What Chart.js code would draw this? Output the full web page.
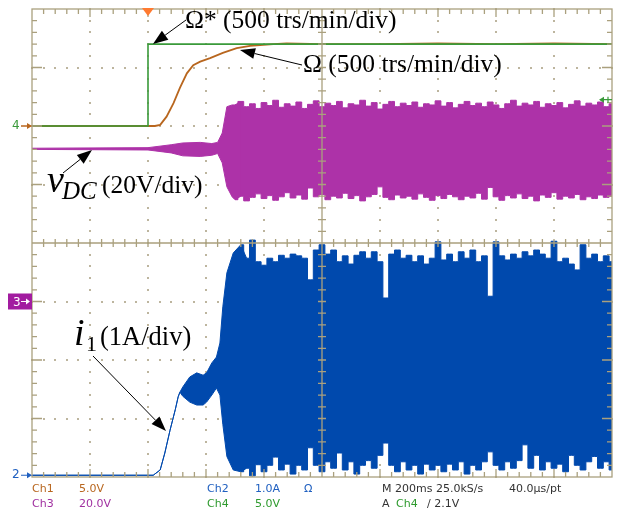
<!DOCTYPE html>
<html>
<head>
<meta charset="utf-8">
<script src="https://cdn.jsdelivr.net/npm/chart.js@4.4.0/dist/chart.umd.min.js"></script>
<style>
  body { margin: 0; background: #fff; }
  #wrap { width: 620px; height: 511px; position: relative; }
</style>
</head>
<body>
<div id="wrap"><canvas id="scope"></canvas></div>
<script>
// everything is in screen divisions: x 0..10, y -4..4 (0 = centre line)

// Ch4 : speed reference Omega*
var refX = [0, 2.0, 2.0, 10];
var refY = [2.0, 2.0, 3.4, 3.4];

// Ch1 : measured speed Omega
var speedX = [0, 2.12, 2.21, 2.32, 2.44, 2.55, 2.67, 2.78, 2.90, 3.07, 3.29, 3.53, 3.76, 4.16, 4.39, 5.0, 6.0, 7.0, 8.0, 9.0, 10.0];
var speedY = [2.0, 2.0, 2.02, 2.16, 2.39, 2.65, 2.90, 3.04, 3.10, 3.16, 3.25, 3.33, 3.37, 3.40, 3.41, 3.40, 3.40, 3.41, 3.40, 3.41, 3.40];

// Ch3 : vDC envelope, start-up part
var vdcOnsetX   = [0, 2.0, 2.4, 2.6, 2.9, 3.1, 3.2, 3.28, 3.36, 3.45];
var vdcOnsetTop = [1.62, 1.63, 1.68, 1.71, 1.72, 1.70, 1.72, 1.88, 2.33, 2.36];
var vdcOnsetBot = [1.60, 1.59, 1.54, 1.49, 1.48, 1.50, 1.53, 1.37, 0.96, 0.79];
// Ch3 : vDC envelope, read every 0.1 div from 3.5 to 10
var vdcStart = 3.5;
var vdcTop = [2.36,2.42,2.33,2.38,2.30,2.40,2.35,2.44,2.32,2.38,2.34,2.41,2.30,2.37,2.43,2.33,2.39,2.35,2.42,2.31,2.38,2.36,2.44,2.34,2.40,2.29,2.37,2.42,2.33,2.39,2.35,2.41,2.32,2.38,2.36,2.43,2.34,2.40,2.31,2.37,2.42,2.35,2.39,2.33,2.41,2.36,2.30,2.38,2.44,2.34,2.39,2.36,2.42,2.32,2.38,2.35,2.40,2.31,2.37,2.43,2.34,2.39,2.36,2.41,2.33,2.38];
var vdcBot = [0.74,0.80,0.72,0.78,0.84,0.76,0.81,0.73,0.79,0.86,0.77,0.82,0.75,0.94,0.79,0.83,0.74,0.80,0.77,0.85,0.76,0.81,0.72,0.79,0.83,0.96,0.78,0.74,0.82,0.77,0.80,0.75,0.84,0.78,0.73,0.81,0.76,0.83,0.79,0.74,0.80,0.77,0.85,0.75,0.95,0.79,0.73,0.81,0.77,0.84,0.76,0.80,0.72,0.82,0.78,0.86,0.75,0.80,0.77,0.83,0.74,0.79,0.76,0.82,0.78,0.80];

// Ch2 : phase current i1, start-up part
var curOnsetX   = [0, 2.09, 2.21, 2.29, 2.38, 2.47, 2.52, 2.55, 2.60, 2.72, 2.84, 2.95, 3.01, 3.10, 3.18, 3.24, 3.29, 3.36, 3.47];
var curOnsetTop = [-3.97, -3.97, -3.88, -3.59, -3.20, -2.85, -2.63, -2.55, -2.46, -2.29, -2.22, -2.26, -2.22, -2.05, -1.95, -1.71, -1.09, -0.51, -0.17];
var curOnsetBot = [-3.97, -3.97, -3.88, -3.59, -3.20, -2.85, -2.63, -2.55, -2.62, -2.72, -2.77, -2.77, -2.72, -2.60, -2.48, -2.60, -3.10, -3.65, -3.88];
// Ch2 : current envelope, read every 0.1 div from 3.6 to 10
var curStart = 3.6;
var curTop = [-0.03,-0.26,0.05,-0.32,-0.38,-0.26,-0.32,-0.21,-0.26,-0.19,-0.22,-0.26,-0.63,-0.12,-0.03,-0.19,-0.12,-0.32,-0.22,-0.36,-0.21,-0.15,-0.26,-0.15,-0.32,-0.94,-0.19,-0.12,-0.26,-0.21,-0.32,-0.22,-0.36,-0.26,0.02,-0.29,-0.19,-0.32,-0.15,-0.26,-0.12,-0.32,-0.22,-0.91,0.02,-0.22,-0.29,-0.19,-0.26,-0.15,-0.22,-0.12,-0.19,-0.26,0.03,-0.32,-0.26,-0.36,-0.46,-0.03,-0.26,-0.19,-0.32,-0.22,-0.32];
var curBot = [-3.91,-3.85,-3.98,-3.79,-3.91,-3.80,-3.66,-3.88,-3.78,-3.95,-3.80,-3.88,-3.50,-3.80,-3.91,-3.74,-3.85,-3.59,-3.88,-3.74,-3.95,-3.80,-3.72,-3.85,-3.63,-3.42,-3.80,-3.91,-3.74,-3.88,-3.80,-3.95,-3.78,-3.88,-3.80,-3.91,-3.78,-3.88,-3.74,-3.95,-3.80,-3.88,-3.74,-3.57,-3.80,-3.88,-3.74,-3.85,-3.72,-3.45,-3.85,-3.63,-3.88,-3.74,-3.85,-3.78,-3.91,-3.63,-3.80,-3.88,-3.74,-3.65,-3.85,-3.74,-3.88];
var sampleStep = 0.1;

function pts(xs, ys) {
  return ys.map(function (v, i) { return { x: xs[i], y: v }; });
}
function sampled(start, vals) {
  return vals.map(function (v, i) { return { x: +(start + i * sampleStep).toFixed(2), y: v }; });
}
// onset part runs into the first two sampled points so the fills overlap (no seam)
function onset(xs, ys, start, vals) {
  var out = pts(xs, ys);
  out.push({ x: start, y: vals[0] });
  out.push({ x: +(start + sampleStep).toFixed(2), y: vals[1] });
  return out;
}

var BLUE = '#0049ad', PURPLE = '#ad32a8', GREEN = '#3a9a3a', BROWN = '#b8661e';
var TAN = '#aaa07e';

function arrow(ctx, x1, y1, x2, y2) {
  var a = Math.atan2(y2 - y1, x2 - x1), L = 15, W = 5.5;
  ctx.strokeStyle = '#000'; ctx.fillStyle = '#000'; ctx.lineWidth = 1;
  ctx.beginPath(); ctx.moveTo(x1, y1);
  ctx.lineTo(x2 - Math.cos(a) * L, y2 - Math.sin(a) * L); ctx.stroke();
  ctx.beginPath(); ctx.moveTo(x2, y2);
  ctx.lineTo(x2 - Math.cos(a) * L - Math.sin(a) * W, y2 - Math.sin(a) * L + Math.cos(a) * W);
  ctx.lineTo(x2 - Math.cos(a) * L + Math.sin(a) * W, y2 - Math.sin(a) * L - Math.cos(a) * W);
  ctx.closePath(); ctx.fill();
}

var graticule = {
  id: 'graticule',
  // dotted division lines, one dot per 0.2 div
  beforeDatasetsDraw: function (chart) {
    var ctx = chart.ctx, sx = chart.scales.x, sy = chart.scales.y;
    ctx.save();
    ctx.fillStyle = '#bdb59e';
    for (var gx = 1; gx < 10; gx++) {
      if (gx === 5) continue;
      var p = Math.round(sx.getPixelForValue(gx));
      for (var k = 0; k <= 40; k++) {
        var q = Math.round(sy.getPixelForValue(-4 + k * 0.2));
        ctx.fillRect(p - 1, q - 1, 2, 2);
      }
    }
    for (var gy = -3; gy < 4; gy++) {
      if (gy === 0) continue;
      var qq = Math.round(sy.getPixelForValue(gy));
      for (var m = 0; m <= 50; m++) {
        var pp = Math.round(sx.getPixelForValue(m * 0.2));
        ctx.fillRect(pp - 1, qq - 1, 2, 2);
      }
    }
    ctx.restore();
  },
  // frame and centre cross with their small ticks
  afterDatasetsDraw: function (chart) {
    var ctx = chart.ctx, sx = chart.scales.x, sy = chart.scales.y;
    var l = sx.getPixelForValue(0), r = sx.getPixelForValue(10);
    var t = sy.getPixelForValue(4), b = sy.getPixelForValue(-4);
    var cx = sx.getPixelForValue(5), cy = sy.getPixelForValue(0);
    ctx.save();
    ctx.strokeStyle = TAN; ctx.lineWidth = 1.3;
    ctx.strokeRect(l, t, r - l, b - t);
    ctx.beginPath();
    ctx.moveTo(l, cy); ctx.lineTo(r, cy);
    ctx.moveTo(cx, t); ctx.lineTo(cx, b);
    for (var i = 1; i < 50; i++) {
      var p = sx.getPixelForValue(i * 0.2);
      var major = i % 5 === 0;
      ctx.moveTo(p, cy - 4); ctx.lineTo(p, cy + 4);
      ctx.moveTo(p, t); ctx.lineTo(p, t + (major ? 8 : 5));
      ctx.moveTo(p, b); ctx.lineTo(p, b - (major ? 8 : 5));
    }
    for (var j = 1; j < 40; j++) {
      var q = sy.getPixelForValue(-4 + j * 0.2);
      var maj = j % 5 === 0;
      ctx.moveTo(cx - 4, q); ctx.lineTo(cx + 4, q);
      ctx.moveTo(l, q); ctx.lineTo(l + (maj ? 10 : 5), q);
      ctx.moveTo(r, q); ctx.lineTo(r - (maj ? 10 : 5), q);
    }
    ctx.stroke();
    ctx.restore();
  },
  afterDraw: function (chart) {
    var ctx = chart.ctx, sx = chart.scales.x, sy = chart.scales.y;
    var l = sx.getPixelForValue(0), r = sx.getPixelForValue(10), t = sy.getPixelForValue(4);
    ctx.save();
    // channel ground markers
    ctx.font = '12px "DejaVu Sans"'; ctx.textBaseline = 'middle';
    var y4 = sy.getPixelForValue(2.0);
    ctx.fillStyle = GREEN; ctx.fillText('4', 12, y4);
    ctx.strokeStyle = BROWN; ctx.fillStyle = BROWN; ctx.lineWidth = 1.5;
    ctx.beginPath(); ctx.moveTo(21, y4); ctx.lineTo(l - 1, y4); ctx.stroke();
    ctx.beginPath(); ctx.moveTo(l, y4); ctx.lineTo(l - 5, y4 - 3); ctx.lineTo(l - 5, y4 + 3); ctx.fill();
    var y3 = sy.getPixelForValue(-1.0);
    ctx.fillStyle = '#a21ca0'; ctx.fillRect(8, y3 - 8, l - 8, 16);
    ctx.fillStyle = '#fff'; ctx.fillText('3', 13, y3 + 1);
    ctx.strokeStyle = '#fff'; ctx.lineWidth = 1;
    ctx.beginPath(); ctx.moveTo(21, y3); ctx.lineTo(28, y3); ctx.stroke();
    ctx.beginPath(); ctx.moveTo(30, y3); ctx.lineTo(26, y3 - 3); ctx.lineTo(26, y3 + 3); ctx.fill();
    var y2 = sy.getPixelForValue(-3.97);
    ctx.fillStyle = '#2060c0'; ctx.fillText('2', 12, y2);
    ctx.strokeStyle = '#2060c0';
    ctx.beginPath(); ctx.moveTo(21, y2); ctx.lineTo(l - 1, y2); ctx.stroke();
    ctx.beginPath(); ctx.moveTo(l, y2); ctx.lineTo(l - 5, y2 - 3); ctx.lineTo(l - 5, y2 + 3); ctx.fill();
    // trigger position and level
    var tx = sx.getPixelForValue(2.0);
    ctx.fillStyle = '#ff7a30';
    ctx.beginPath(); ctx.moveTo(tx - 6, t - 1); ctx.lineTo(tx + 6, t - 1); ctx.lineTo(tx, t + 7); ctx.fill();
    var ty = sy.getPixelForValue(2.45);
    ctx.strokeStyle = GREEN; ctx.fillStyle = GREEN; ctx.lineWidth = 1.2;
    ctx.beginPath(); ctx.moveTo(r - 12, ty); ctx.lineTo(r, ty); ctx.moveTo(r - 4, ty - 3); ctx.lineTo(r - 4, ty + 3); ctx.stroke();
    ctx.beginPath(); ctx.moveTo(r - 13, ty); ctx.lineTo(r - 8, ty - 3); ctx.lineTo(r - 8, ty + 3); ctx.fill();

    // annotations
    ctx.textBaseline = 'alphabetic'; ctx.fillStyle = '#000';
    ctx.font = '25.5px "Liberation Serif"';
    ctx.fillText('\u03A9* (500 trs/min/div)', 185, 28);
    ctx.fillText('\u03A9 (500 trs/min/div)', 303, 72);
    ctx.fillText('(20V/div)', 102, 193);
    ctx.font = '26.5px "Liberation Serif"';
    ctx.fillText('(1A/div)', 100, 345);
    ctx.font = 'italic 38px "Liberation Serif"';
    ctx.fillText('v', 47, 192);
    ctx.fillText('i', 74, 345);
    ctx.font = 'italic 25px "Liberation Serif"';
    ctx.fillText('DC', 62, 199);
    ctx.font = '22px "Liberation Serif"';
    ctx.fillText('1', 86, 351);
    arrow(ctx, 186, 20, 153, 44);
    arrow(ctx, 302, 65, 240, 50);
    arrow(ctx, 63, 173, 92, 150);
    arrow(ctx, 93, 356, 166, 431);

    // scope status lines
    ctx.font = '11px "DejaVu Sans"'; ctx.textBaseline = 'middle';
    var row1 = 489, row2 = 504;
    var labels = [
      ['Ch1', 32, row1, '#b8661e'], ['5.0V', 79, row1, '#b8661e'],
      ['Ch2', 207, row1, '#2060c0'], ['1.0A', 255, row1, '#2060c0'], ['\u03A9', 304, row1, '#2060c0'],
      ['M 200ms 25.0kS/s', 382, row1, '#333'], ['40.0\u00B5s/pt', 509, row1, '#333'],
      ['Ch3', 32, row2, '#a030a0'], ['20.0V', 79, row2, '#a030a0'],
      ['Ch4', 207, row2, '#2e9a2e'], ['5.0V', 255, row2, '#2e9a2e'],
      ['A', 382, row2, '#333'], ['Ch4', 396, row2, '#2e9a2e'], ['\u2215 2.1V', 427, row2, '#333']
    ];
    labels.forEach(function (s) { ctx.fillStyle = s[3]; ctx.fillText(s[0], s[1], s[2]); });
    ctx.restore();
  }
};

var ctx = document.getElementById('scope');
var scope = new Chart(ctx, {
  type: 'line',
  data: {
    datasets: [
      { label: 'i1 low (start)', data: onset(curOnsetX, curOnsetBot, curStart, curBot),
        borderColor: BLUE, borderWidth: 1, fill: false },
      { label: 'i1 (start)', data: onset(curOnsetX, curOnsetTop, curStart, curTop),
        borderColor: BLUE, borderWidth: 1, backgroundColor: BLUE, fill: '-1' },
      { label: 'i1 low', data: sampled(curStart, curBot), stepped: 'middle',
        borderColor: BLUE, borderWidth: 1, fill: false },
      { label: 'i1 (1A/div)', data: sampled(curStart, curTop), stepped: 'middle',
        borderColor: BLUE, borderWidth: 1, backgroundColor: BLUE, fill: '-1' },
      { label: 'vDC low (start)', data: onset(vdcOnsetX, vdcOnsetBot, vdcStart, vdcBot),
        borderColor: PURPLE, borderWidth: 1, fill: false },
      { label: 'vDC (start)', data: onset(vdcOnsetX, vdcOnsetTop, vdcStart, vdcTop),
        borderColor: PURPLE, borderWidth: 1, backgroundColor: PURPLE, fill: '-1' },
      { label: 'vDC low', data: sampled(vdcStart, vdcBot), stepped: 'middle',
        borderColor: PURPLE, borderWidth: 1, fill: false },
      { label: 'vDC (20V/div)', data: sampled(vdcStart, vdcTop), stepped: 'middle',
        borderColor: PURPLE, borderWidth: 1, backgroundColor: PURPLE, fill: '-1' },
      { label: 'Omega*', data: pts(refX, refY), borderColor: GREEN, borderWidth: 1.6, fill: false },
      { label: 'Omega', data: pts(speedX, speedY), borderColor: BROWN, borderWidth: 1.8, fill: false }
    ]
  },
  options: {
    responsive: true,
    maintainAspectRatio: false,
    animation: false,
    layout: { padding: { left: 32, right: 8, top: 9, bottom: 34 } },
    elements: { point: { radius: 0 }, line: { tension: 0 } },
    plugins: { legend: { display: false }, tooltip: { enabled: false } },
    scales: {
      x: { type: 'linear', display: false, min: 0, max: 10 },
      y: { type: 'linear', display: false, min: -4, max: 4 }
    }
  },
  plugins: [graticule]
});
</script>
</body>
</html>
